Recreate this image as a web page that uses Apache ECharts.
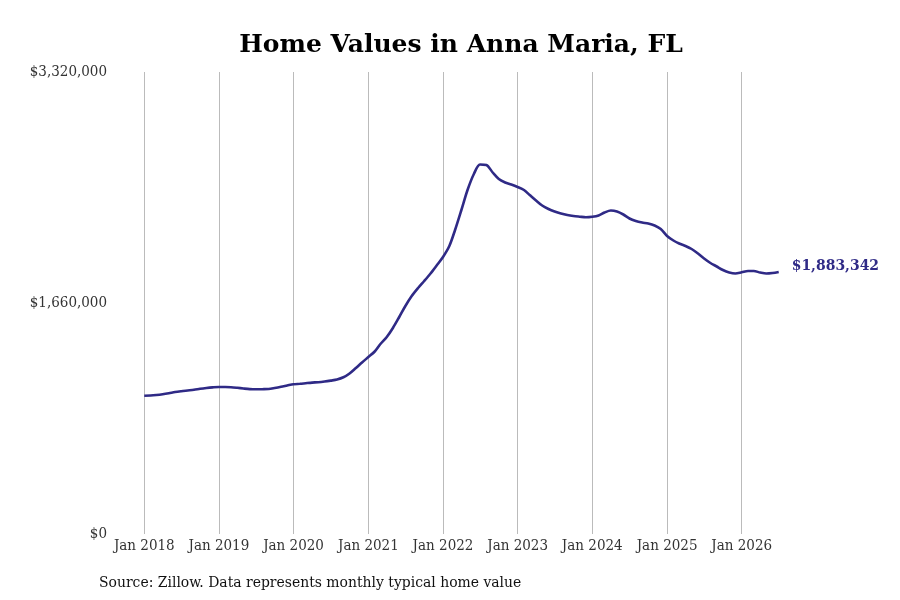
<!DOCTYPE html>
<title>Home Values in Anna Maria, FL</title>
<style>
body {margin: 0;}
#echart {height: 600px; width: 900px;}
</style>
<div id='echart'></div>
<script src='https://cdn.jsdelivr.net/npm/echarts@6.0.0/dist/echarts.min.js'></script>
<script>
// monthly typical home value, Jan 2018 .. Jul 2026
let start_year = 2018
let values = [
	994000, 995300, 998900, 1004600, 1011800, 1020400, 1026200, 1031200, 1036200, 1043400, 1049200, 1053500,
	1056400, 1056400, 1054900, 1050600, 1045600, 1041300, 1039800, 1040600, 1042000, 1049200, 1057800, 1067100,
	1076500, 1079400, 1083700, 1088000, 1090800, 1095900, 1102400, 1110200, 1126100, 1153400, 1192900, 1232400,
	1271900, 1311500, 1365400, 1415700, 1480300, 1559400, 1638400, 1710300, 1767800, 1818100, 1872000, 1929500,
	1990600, 2069600, 2184600, 2328300, 2472000, 2587000, 2655200, 2651700, 2597800, 2551100, 2525900, 2511500,
	2493600, 2472000, 2436100, 2396600, 2360600, 2335500, 2317500, 2303200, 2292400, 2285200, 2280200, 2275800,
	2279400, 2288800, 2310300, 2324700, 2317500, 2296000, 2267200, 2249300, 2238500, 2231300, 2216900, 2191800,
	2141500, 2109100, 2087600, 2069600, 2048000, 2015700, 1979800, 1947400, 1922300, 1897100, 1879200, 1872000,
	1880600, 1889900, 1889900, 1879200, 1872000, 1875600, 1883342,
]
let months = values.map(function (v, i) {
	let y = start_year + Math.floor(i / 12)
	let m = i % 12 + 1
	return y + '-' + String(m).padStart(2, '0') + '-01'
})
let y_ticks = [0, 1660000, 3320000]

let serif = "'DejaVu Serif Condensed', 'DejaVu Serif', serif"
let line_color = '#2f2a86'
let money = function (v) {return '$' + Math.round(v).toLocaleString('en-US')}

let echart = echarts.init(document.querySelector('#echart'))
let option = {
	animation: false,
	title: [
		{text: 'Home Values in Anna Maria, FL', left: 456, top: 14, textAlign: 'center', textStyle: {fontFamily: "'DejaVu Serif', serif", fontWeight: 'bold', fontSize: 25, color: '#000'}},
		{text: 'Source: Zillow. Data represents monthly typical home value', left: 99, top: 569, padding: 0, textStyle: {fontFamily: serif, fontWeight: 'normal', fontSize: 15.5, color: '#111'}},
	],
	grid: {left: 113, right: 90, top: 72, bottom: 66},
	xAxis: {
		type: 'time',
		min: '2017-08-01',
		max: '2026-12-01',
		minInterval: 365 * 86400000,
		maxInterval: 366 * 86400000,
		axisLine: {show: false},
		axisTick: {show: false},
		splitLine: {show: true, showMinLine: false, showMaxLine: false, lineStyle: {color: '#bbbbbb', width: 1}},
		axisLabel: {formatter: '{MMM} {yyyy}', margin: -1, fontFamily: serif, fontSize: 15, color: '#333', hideOverlap: false},
	},
	yAxis: {
		type: 'value',
		min: y_ticks[0],
		max: y_ticks[2],
		interval: y_ticks[1],
		axisLine: {show: false},
		axisTick: {show: false},
		splitLine: {show: false},
		axisLabel: {formatter: money, margin: 6, padding: [4, 0, 0, 0], fontFamily: serif, fontSize: 15, color: '#333'},
	},
	series: [{
		type: 'line',
		data: months.map(function (d, i) {return [d, values[i]]}),
		showSymbol: false,
		smooth: 0.3,
		lineStyle: {color: line_color, width: 2.6},
		itemStyle: {color: line_color},
		endLabel: {show: true, formatter: function (p) {return money(p.value[1])}, distance: 13, offset: [0, -6], fontFamily: serif, fontWeight: 'bold', fontSize: 15.5, color: line_color},
	}],
}

echart.setOption(option)
</script>
